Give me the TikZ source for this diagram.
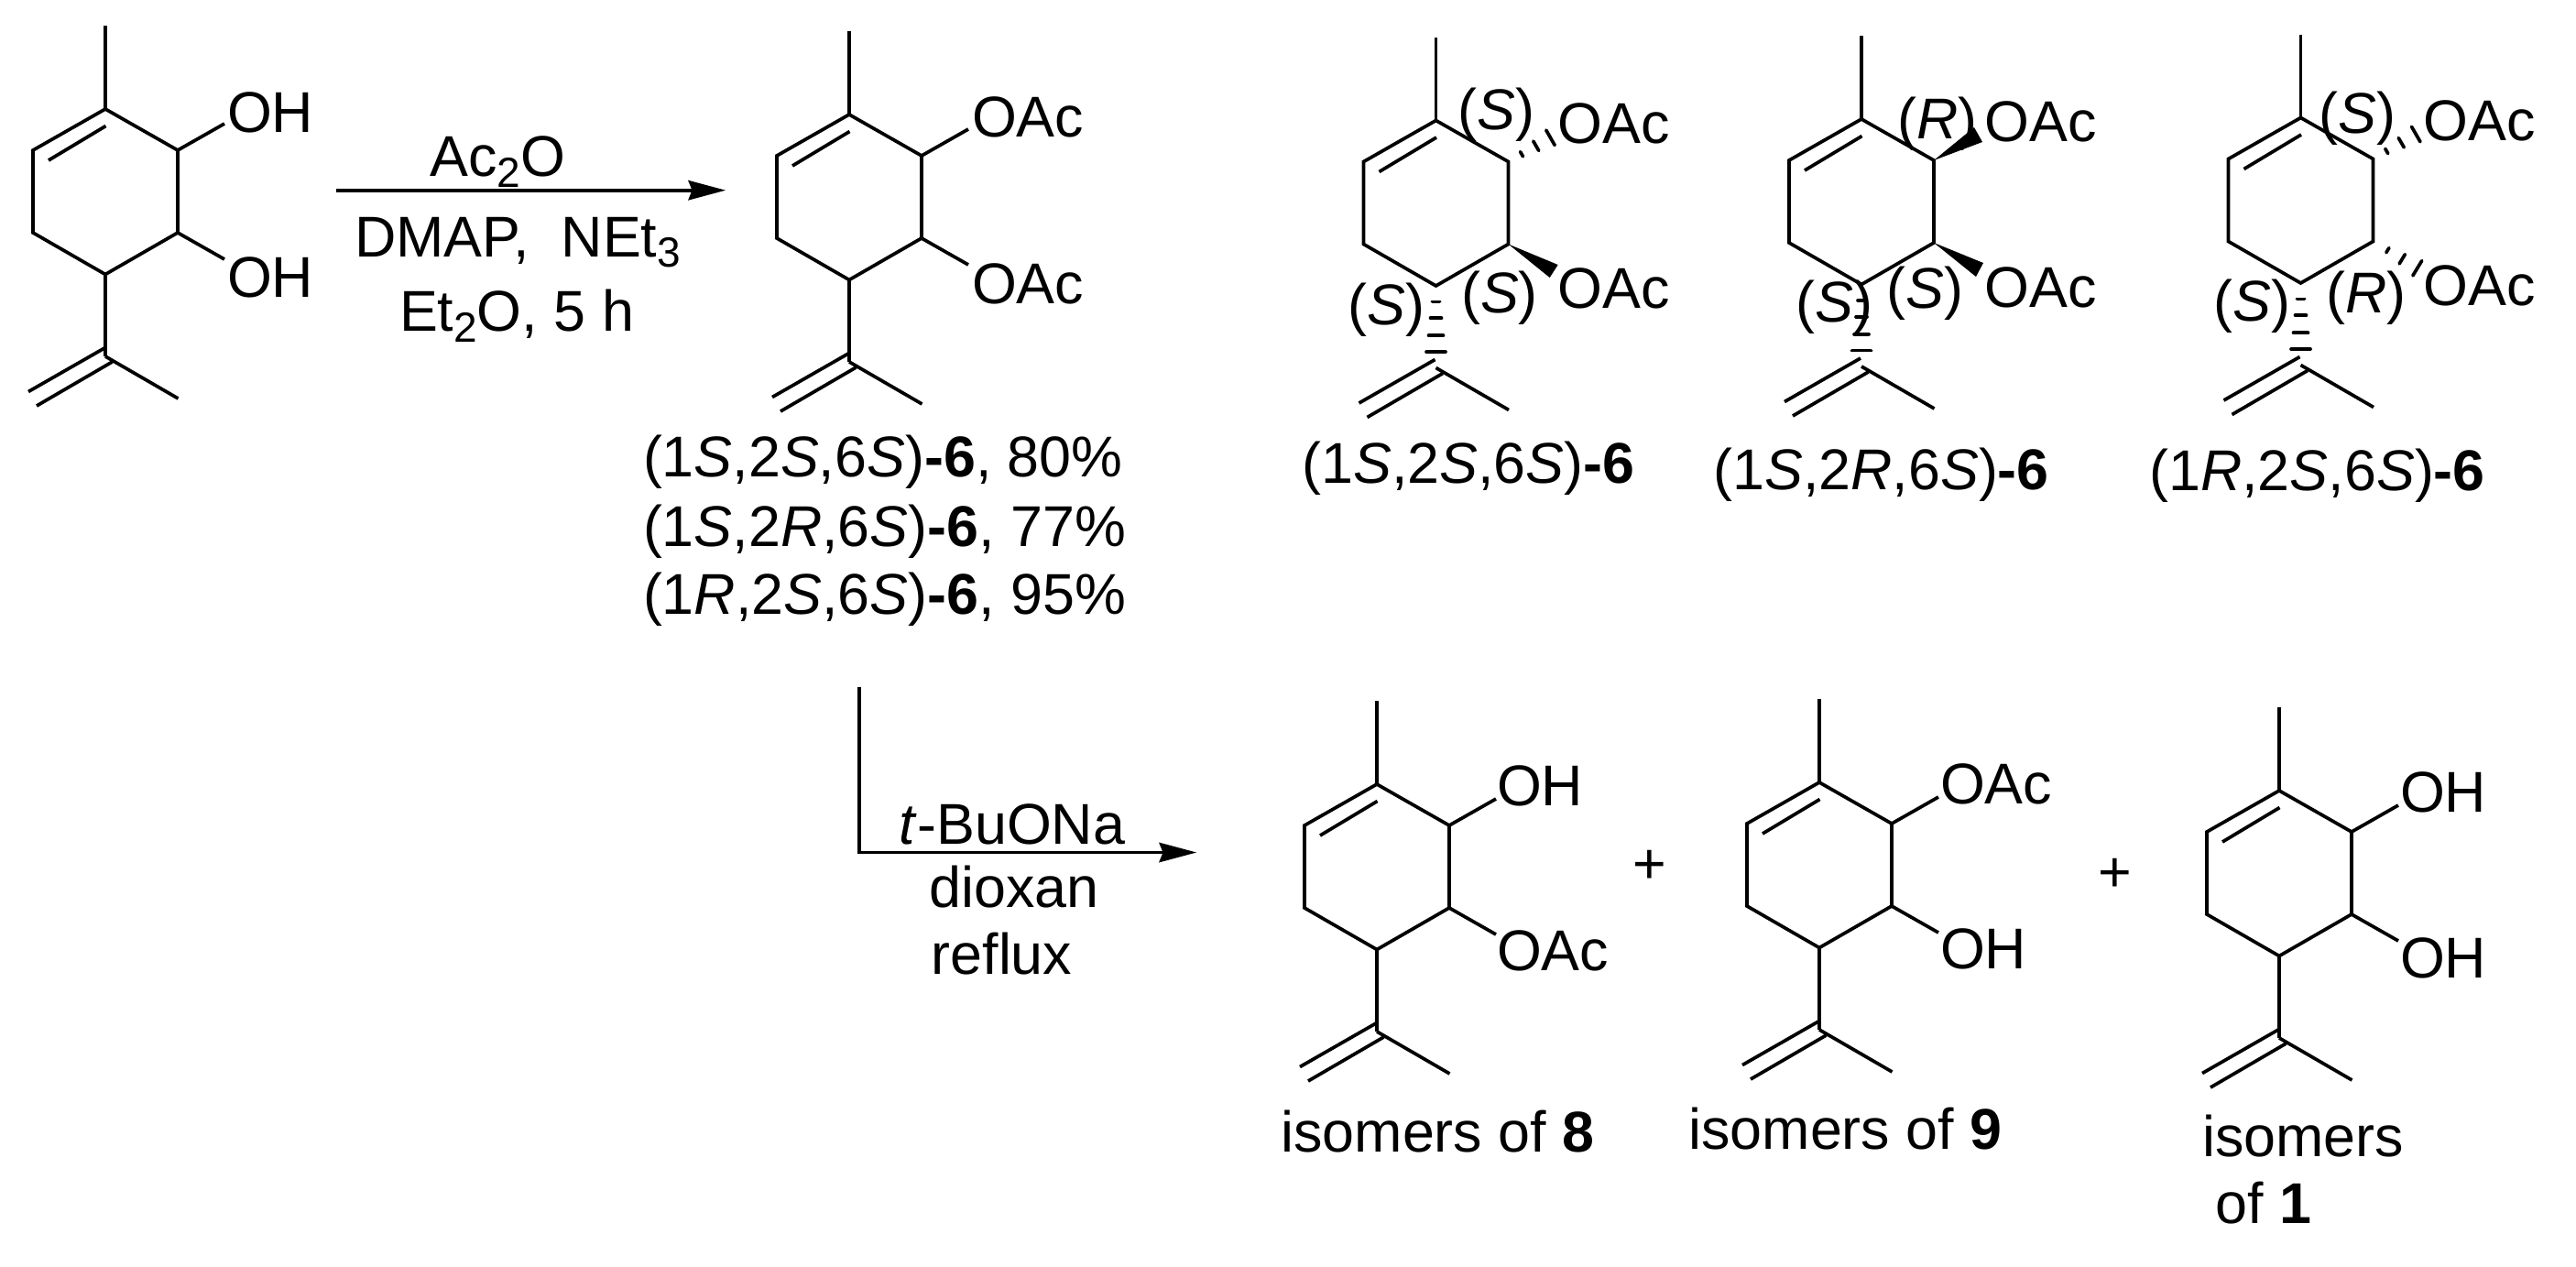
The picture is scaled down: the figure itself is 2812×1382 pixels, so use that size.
\documentclass[tikz,border=0pt]{standalone}
\usepackage{fontspec}
\setmainfont{Liberation Sans}
\usetikzlibrary{calc,arrows.meta}
\newcommand\chemsize{\fontsize{31.4}{36}\selectfont}
\newcommand\subn[1]{\raisebox{-5.75pt}{\fontsize{23}{23}\selectfont #1}}
\newcommand\hashes[3]{\foreach \t/\w in {#3}{\draw[hashline] ($(#1)!\t!(#2)!\w pt!90:(#2)$) -- ($(#1)!\t!(#2)!\w pt!-90:(#2)$);}}
\tikzset{
  bond/.style={line width=1.85pt,line join=miter,line cap=butt},
  hashline/.style={line width=1.85pt,line cap=round},
  wedgebond/.style={fill=black,draw=none},
  lab/.style={inner sep=0pt,outer sep=0pt,anchor=base,font=\chemsize},
  labw/.style={inner sep=0pt,outer sep=0pt,anchor=base west,font=\chemsize},
  rxn/.style={line width=1.85pt,-{Stealth[length=20.5pt,width=11pt,inset=2.25pt,line width=0pt]}},
  ringmol/.pic={
    \coordinate (-me) at (115,28);
    \coordinate (-c) at (115,119);
    \coordinate (-r1) at (194,164);
    \coordinate (-r2) at (194,254);
    \coordinate (-b) at (115,299.5);
    \coordinate (-l2) at (36,254);
    \coordinate (-l1) at (36,164);
    \coordinate (-in1) at (53,175);
    \coordinate (-in2) at (115.5,137.5);
    \coordinate (-ip) at (115,389);
    \coordinate (-ipm) at (194.5,435);
    \coordinate (-d1) at (114,380);
    \coordinate (-d2) at (31,427.5);
    \coordinate (-d3) at (122.5,395);
    \coordinate (-d4) at (40,443);
    \coordinate (-ot) at (245,135);
    \coordinate (-ob) at (245,283);
    \draw[bond] (-c) -- (-r1) -- (-r2) -- (-b) -- (-l2) -- (-l1) -- cycle;
    \draw[bond] (-me) -- (-c);
    \draw[bond] (-in1) -- (-in2);
    \draw[bond] (-ip) -- (-ipm);
    \draw[bond] (-d1) -- (-d2);
    \draw[bond] (-d3) -- (-d4);
  },
}
\begin{document}
\begin{tikzpicture}[x=0.5pt,y=-0.5pt]
\useasboundingbox (0,0) rectangle (2812,1382);
\fill[white] (0,0) rectangle (2812,1382);

% molecule 1: diol
\pic (a) at (0,0) {ringmol};
\draw[bond] (a-b) -- (a-ip);
\draw[bond] (a-r1) -- (a-ot);
\draw[bond] (a-r2) -- (a-ob);
\node[labw] (a1) at (248,144) {OH};
\node[labw] (a2) at (248,324) {OH};

% first arrow
\coordinate (s1) at (367,207.7);
\coordinate (e1) at (792,207.7);
\draw[rxn] (s1) -- (e1);
\node[lab] (r1) at (543,192.7) {Ac\subn{2}O};
\node[lab] (r2) at (565,280) {DMAP,\ \ NEt\subn{3}};
\node[lab] (r3) at (564,361.7) {Et\subn{2}O, 5 h};

% molecule 2
\pic (b) at (812,6) {ringmol};
\draw[bond] (b-b) -- (b-ip);
\draw[bond] (b-r1) -- (b-ot);
\draw[bond] (b-r2) -- (b-ob);
\node[labw] (b1) at (1061,149) {OAc};
\node[labw] (b2) at (1061,331) {OAc};
\node[labw] (b3) at (702,520) {(1\textit{S},2\textit{S},6\textit{S})\textbf{-6}, 80\%};
\node[labw] (b4) at (702,596) {(1\textit{S},2\textit{R},6\textit{S})\textbf{-6}, 77\%};
\node[labw] (b5) at (702,670) {(1\textit{R},2\textit{S},6\textit{S})\textbf{-6}, 95\%};

% molecule 3: (1S,2S,6S)
\pic (c) at (1452.5,12.5) {ringmol};
\coordinate (c-h1) at (1707,142);
\hashes{c-r1}{c-h1}{.24/1.5,.5/3,.76/4.75}
\fill[wedgebond] (c-r2) -- (1700.7,289) -- (1691.7,303) -- cycle;
\hashes{c-b}{c-ip}{.194/2,.394/3,.606/4,.806/5.25}
\node[lab] (c1) at (1762,156) {OAc};
\node[lab] (c2) at (1762,336) {OAc};
\node[lab] (c3) at (1633.8,141.7) {(\textit{S})};
\node[lab] (c4) at (1637,341) {(\textit{S})};
\node[lab] (c5) at (1513.7,354) {(\textit{S})};
\node[lab] (c6) at (1603,527) {(1\textit{S},2\textit{S},6\textit{S})\textbf{-6}};

% molecule 4: (1S,2R,6S)
\pic (d) at (1917,11) {ringmol};
\fill[wedgebond] (d-r1) -- (2164,155) -- (2155,139) -- cycle;
\fill[wedgebond] (d-r2) -- (2165,287) -- (2157,302) -- cycle;
\hashes{d-b}{d-ip}{.194/2,.394/3,.606/4,.806/5.25}
\node[lab] (d1) at (2227.5,154.3) {OAc};
\node[lab] (d2) at (2227.5,335) {OAc};
\node[lab] (d3) at (2114.7,151) {(\textit{R})};
\node[lab] (d4) at (2101.3,336.7) {(\textit{S})};
\node[lab] (d5) at (2002.8,351.7) {(\textit{S})};
\node[lab] (d6) at (2053.5,534) {(1\textit{S},2\textit{R},6\textit{S})\textbf{-6}};

% molecule 5: (1R,2S,6S)
\pic (e) at (2396.5,9.5) {ringmol};
\coordinate (e-h1) at (2652,138);
\coordinate (e-h2) at (2654,302);
\hashes{e-r1}{e-h1}{.24/1.5,.5/3,.76/4.75}
\hashes{e-r2}{e-h2}{.25/1.5,.5/3,.76/4.75}
\hashes{e-b}{e-ip}{.194/2,.394/3,.606/4,.806/5.25}
\node[lab] (e1) at (2706.7,153.3) {OAc};
\node[lab] (e2) at (2706.7,333.3) {OAc};
\node[lab] (e3) at (2573.8,145.7) {(\textit{S})};
\node[lab] (e4) at (2582.8,341.7) {(\textit{R})};
\node[lab] (e5) at (2458.5,350) {(\textit{S})};
\node[lab] (e6) at (2529.5,535) {(1\textit{R},2\textit{S},6\textit{S})\textbf{-6}};

% second arrow
\coordinate (s2) at (938,750);
\coordinate (k2) at (938,930.5);
\coordinate (e2a) at (1306,930.5);
\draw[bond] (s2) -- (k2);
\draw[rxn] ([xshift=-0.92pt]k2) -- (e2a);
\node[lab] (t1) at (1105,921) {\textit{t}-BuONa};
\node[lab] (t2) at (1107,990.6) {dioxan};
\node[lab] (t3) at (1093.5,1063) {reflux};

% molecule 6
\pic (f) at (1388,737) {ringmol};
\draw[bond] (f-b) -- (f-ip);
\draw[bond] (f-r1) -- (f-ot);
\draw[bond] (f-r2) -- (f-ob);
\node[labw] (f1) at (1634,879) {OH};
\node[labw] (f2) at (1634,1059) {OAc};
\node[lab] (f3) at (1569.5,1257) {isomers of \textbf{8}};
\node[lab] (p1) at (1800.5,964) {+};

% molecule 7
\pic (g) at (1871,735) {ringmol};
\draw[bond] (g-b) -- (g-ip);
\draw[bond] (g-r1) -- (g-ot);
\draw[bond] (g-r2) -- (g-ob);
\node[labw] (g1) at (2118,877) {OAc};
\node[labw] (g2) at (2118,1057) {OH};
\node[lab] (g3) at (2014.5,1254) {isomers of \textbf{9}};
\node[lab] (p2) at (2309,973) {+};

% molecule 8
\pic (h) at (2373,744) {ringmol};
\draw[bond] (h-b) -- (h-ip);
\draw[bond] (h-r1) -- (h-ot);
\draw[bond] (h-r2) -- (h-ob);
\node[labw] (h1) at (2620,886.6) {OH};
\node[labw] (h2) at (2620,1067) {OH};
\node[lab] (h3) at (2514,1262) {isomers};
\node[lab] (h4) at (2470.5,1335) {of \textbf{1}};
\end{tikzpicture}
\end{document}
